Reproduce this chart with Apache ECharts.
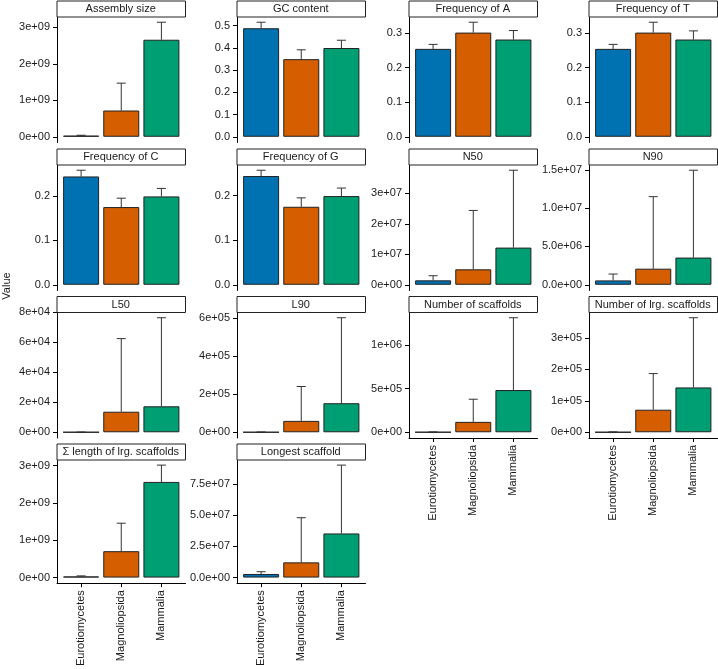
<!DOCTYPE html>
<html>
<head>
<meta charset="utf-8">
<script src="https://cdn.jsdelivr.net/npm/echarts@6/dist/echarts.min.js"></script>
<style>
html,body{margin:0;padding:0;background:#fff;}
#chart{width:718px;height:669px;}
</style>
</head>
<body>
<div id="chart"></div>
<script>
// ---- data ----
const groups = ['Eurotiomycetes', 'Magnoliopsida', 'Mammalia'];
const groupColors = ['#0072B2', '#D55E00', '#009E73'];
const panelTitles = ['Assembly size', 'GC content', 'Frequency of A', 'Frequency of T',
  'Frequency of C', 'Frequency of G', 'N50', 'N90', 'L50', 'L90',
  'Number of scaffolds', 'Number of lrg. scaffolds', 'Σ length of lrg. scaffolds', 'Longest scaffold'];

const assemblySizeMean = [3.2e7, 7.2e8, 2.66e9];
const assemblySizeUpper = [4.2e7, 1.47e9, 3.14e9];
const gcMean = [0.488, 0.349, 0.399];
const gcUpper = [0.515, 0.391, 0.434];
const freqAMean = [0.254, 0.301, 0.281];
const freqAUpper = [0.267, 0.331, 0.307];
const freqTMean = [0.254, 0.301, 0.281];
const freqTUpper = [0.267, 0.331, 0.306];
const freqCMean = [0.244, 0.175, 0.199];
const freqCUpper = [0.258, 0.195, 0.217];
const freqGMean = [0.244, 0.175, 0.199];
const freqGUpper = [0.257, 0.195, 0.217];
const n50Mean = [1.45e6, 5.07e6, 1.22e7];
const n50Upper = [2.97e6, 2.44e7, 3.76e7];
const n90Mean = [5.7e5, 2.1e6, 3.55e6];
const n90Upper = [1.4e6, 1.15e7, 1.495e7];
const l50Mean = [60, 1.37e4, 1.73e4];
const l50Upper = [150, 6.24e4, 7.63e4];
const l90Mean = [500, 6.0e4, 1.53e5];
const l90Upper = [1500, 2.41e5, 6.03e5];
const nScaffoldsMean = [1500, 1.19e5, 4.83e5];
const nScaffoldsUpper = [4000, 3.78e5, 1.31e6];
const nLrgScaffoldsMean = [300, 7.17e4, 1.425e5];
const nLrgScaffoldsUpper = [1200, 1.865e5, 3.64e5];
const sumLenLrgMean = [3.1e7, 7.06e8, 2.56e9];
const sumLenLrgUpper = [4.5e7, 1.455e9, 3.01e9];
const longestMean = [2.9e6, 1.22e7, 3.54e7];
const longestUpper = [4.7e6, 4.8e7, 9.02e7];

const tickValues = [
  [0, 1e9, 2e9, 3e9], [0, 0.1, 0.2, 0.3, 0.4, 0.5], [0, 0.1, 0.2, 0.3], [0, 0.1, 0.2, 0.3],
  [0, 0.1, 0.2], [0, 0.1, 0.2], [0, 1e7, 2e7, 3e7], [0, 5e6, 1e7, 1.5e7],
  [0, 2e4, 4e4, 6e4, 8e4], [0, 2e5, 4e5, 6e5], [0, 5e5, 1e6], [0, 1e5, 2e5, 3e5],
  [0, 1e9, 2e9, 3e9], [0, 2.5e7, 5e7, 7.5e7]
];
const tickLabels = [
  ['0e+00', '1e+09', '2e+09', '3e+09'], ['0.0', '0.1', '0.2', '0.3', '0.4', '0.5'],
  ['0.0', '0.1', '0.2', '0.3'], ['0.0', '0.1', '0.2', '0.3'],
  ['0.0', '0.1', '0.2'], ['0.0', '0.1', '0.2'],
  ['0e+00', '1e+07', '2e+07', '3e+07'], ['0.0e+00', '5.0e+06', '1.0e+07', '1.5e+07'],
  ['0e+00', '2e+04', '4e+04', '6e+04', '8e+04'], ['0e+00', '2e+05', '4e+05', '6e+05'],
  ['0e+00', '5e+05', '1e+06'], ['0e+00', '1e+05', '2e+05', '3e+05'],
  ['0e+00', '1e+09', '2e+09', '3e+09'], ['0.0e+00', '2.5e+07', '5.0e+07', '7.5e+07']
];

const panelMeans = [assemblySizeMean, gcMean, freqAMean, freqTMean, freqCMean, freqGMean,
  n50Mean, n90Mean, l50Mean, l90Mean, nScaffoldsMean, nLrgScaffoldsMean, sumLenLrgMean, longestMean];
const panelUppers = [assemblySizeUpper, gcUpper, freqAUpper, freqTUpper, freqCUpper, freqGUpper,
  n50Upper, n90Upper, l50Upper, l90Upper, nScaffoldsUpper, nLrgScaffoldsUpper, sumLenLrgUpper, longestUpper];

// ---- layout ----
const colLeft = [57, 237, 409, 589];
const stripTop = [0.5, 148.5, 296, 443.5];
const panelW = 128.5, stripH = 16, panelH = 126;
const withXLabels = [10, 11, 12, 13];
const FONT = "'Liberation Sans', Arial, sans-serif";
const TXT = '#1a1a1a';

const grids = [], xAxes = [], yAxes = [], series = [], graphics = [];

panelTitles.forEach((title, i) => {
  const c = i % 4, r = Math.floor(i / 4);
  const left = colLeft[c], top = stripTop[r] + stripH;
  grids.push({ left: left, top: top, width: panelW, height: panelH, containLabel: false });
  const M = Math.max(...panelUppers[i]);
  const ticks = tickValues[i], labels = tickLabels[i];
  const showX = withXLabels.indexOf(i) >= 0;
  xAxes.push({
    type: 'value', gridIndex: i, min: 0.4, max: 3.6,
    show: showX,
    axisLine: { show: true, onZero: false, lineStyle: { color: '#000', width: 1 } },
    axisTick: { show: true, length: 4, customValues: [1, 2, 3], lineStyle: { color: '#000' } },
    axisLabel: {
      show: true, customValues: [1, 2, 3], rotate: 90, margin: 7,
      fontSize: 11, color: TXT, fontFamily: FONT,
      formatter: v => groups[Math.round(v) - 1]
    },
    splitLine: { show: false }
  });
  yAxes.push({
    type: 'value', gridIndex: i, min: -0.05 * M, max: 1.05 * M,
    axisLine: { show: true, onZero: false, lineStyle: { color: '#000', width: 1 } },
    axisTick: { show: true, length: 4, customValues: ticks, lineStyle: { color: '#000' } },
    axisLabel: {
      show: true, customValues: ticks, margin: 7,
      fontSize: 11, color: TXT, fontFamily: FONT,
      formatter: v => {
        let best = 0, bd = Infinity;
        ticks.forEach((t, k) => { const d = Math.abs(t - v); if (d < bd) { bd = d; best = k; } });
        return labels[best];
      }
    },
    splitLine: { show: false }
  });
  series.push({
    type: 'bar', xAxisIndex: i, yAxisIndex: i, barWidth: 36,
    data: panelMeans[i].map((m, k) => ({
      value: [k + 1, m],
      itemStyle: { color: groupColors[k], borderColor: '#222', borderWidth: 1 }
    })),
    silent: true
  });
  series.push({
    type: 'custom', xAxisIndex: i, yAxisIndex: i, silent: true,
    data: panelMeans[i].map((m, k) => [k + 1, m, panelUppers[i][k]]),
    renderItem: (params, api) => {
      const x = api.value(0), m = api.value(1), u = api.value(2);
      const p0 = api.coord([x, m]), p1 = api.coord([x, u]);
      const hw = 4.5;
      return {
        type: 'group', children: [
          { type: 'line', shape: { x1: p0[0], y1: p0[1], x2: p1[0], y2: p1[1] }, style: { stroke: '#333', lineWidth: 1 } },
          { type: 'line', shape: { x1: p1[0] - hw, y1: p1[1], x2: p1[0] + hw, y2: p1[1] }, style: { stroke: '#333', lineWidth: 1 } }
        ]
      };
    }
  });
  graphics.push({
    type: 'rect', left: left - 0.5, top: stripTop[r],
    shape: { x: 0, y: 0, width: panelW, height: stripH },
    style: { fill: '#fff', stroke: '#222', lineWidth: 1 }, z: 10
  });
  graphics.push({
    type: 'text', x: left + panelW / 2 - 0.5, y: stripTop[r] + stripH / 2 + 0.5,
    style: { text: title, fill: TXT, font: '11px ' + FONT, textAlign: 'center', textVerticalAlign: 'middle' },
    z: 11
  });
});

graphics.push({
  type: 'text', x: 7, y: 286, rotation: Math.PI / 2,
  style: { text: 'Value', fill: TXT, font: '11px ' + FONT, textAlign: 'center', textVerticalAlign: 'middle' }
});

const chart = echarts.init(document.getElementById('chart'), null, { renderer: 'canvas' });
chart.setOption({
  animation: false,
  backgroundColor: '#fff',
  grid: grids, xAxis: xAxes, yAxis: yAxes, series: series, graphic: graphics
});
</script>
</body>
</html>
